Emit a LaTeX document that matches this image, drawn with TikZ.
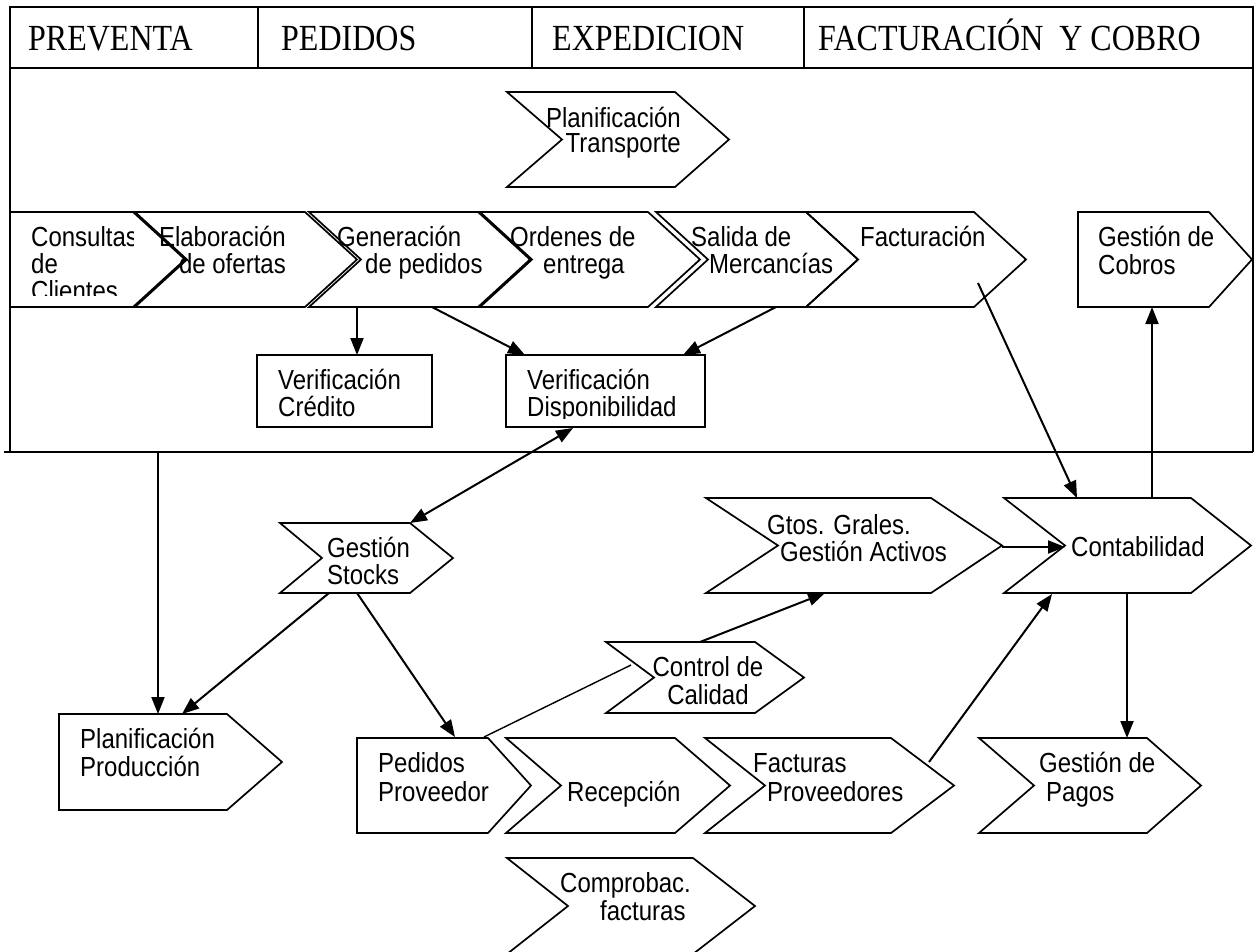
\documentclass[tikz,border=0pt]{standalone}
\usepackage{fontspec}
\usepackage{graphicx}
\setmainfont{Liberation Serif}
\newfontfamily\arialf{Liberation Sans}
\usetikzlibrary{arrows.meta}
\newcommand\chevshape[6]{% xl, xr, ytop, ybot, notch depth, tip depth
  \draw[shp] (#1,#3) -- (#2,#3) -- ({#2+#6},{(#3+#4)/2}) -- (#2,#4) -- (#1,#4) -- ({#1+#5},{(#3+#4)/2}) -- cycle;}
\newcommand\vs[1]{\scalebox{1}[1.15]{#1}}
\begin{document}
\begin{tikzpicture}[x=1pt,y=-1pt, line join=miter,
  shp/.style={draw=black, line width=1.7pt},
  frm/.style={draw=black, line width=1.8pt},
  arr/.style={line width=2pt, -{Triangle[length=17pt,width=13pt]}},
  darr/.style={line width=2pt, {Triangle[length=17pt,width=13pt]}-{Triangle[length=17pt,width=13pt]}},
  thin/.style={line width=1.4pt},
  txt/.style={inner sep=0pt, font=\arialf\fontsize{24}{27}\selectfont},
  hdr/.style={inner sep=0pt, font=\fontsize{32}{36}\selectfont}]
\useasboundingbox (0,0) rectangle (1257,951);
\clip (0,0) rectangle (1257,951);

% header and frame
\draw[frm] (10,7) rectangle (1253,68);
\draw[frm] (258,7) -- (258,68);
\draw[frm] (532,7) -- (532,68);
\draw[frm] (804,7) -- (804,68);
\draw[frm] (10,68) -- (10,452);
\draw[frm] (1253,68) -- (1253,452);
\draw[frm] (4,452) -- (1253,452);

\node[hdr, anchor=base west] (h1) at (28,50) {\vs{PREVENTA}};
\node[hdr, anchor=base west] (h2) at (281,50) {\vs{PEDIDOS}};
\node[hdr, anchor=base west] (h3) at (552,50) {\vs{EXPEDICION}};
\node[hdr, anchor=base west] (h4) at (818,50) {\vs{FACTURACIÓN\ \ Y COBRO}};

% shapes
\chevshape{507}{675}{92}{187}{55}{54}        % Planificacion Transporte
\chevshape{10}{133}{212}{307}{0}{52}         % Consultas
\chevshape{135}{305}{212}{307}{52}{52}       % Elaboracion
\chevshape{309}{478}{212}{307}{52}{52}       % Generacion
\chevshape{480}{648}{212}{307}{52}{52}       % Ordenes
\chevshape{656}{806}{212}{307}{52}{52}       % Salida
\chevshape{806}{974}{212}{307}{52}{52}       % Facturacion
\chevshape{1078}{1209}{212}{307}{0}{43}      % Gestion Cobros
\draw[shp] (257,355) rectangle (432,427);    % Verificacion Credito
\draw[shp] (506,355) rectangle (705,427);    % Verificacion Disponibilidad
\chevshape{280}{410}{523}{593}{42}{43}       % Gestion Stocks
\chevshape{706}{931}{498}{593}{72}{71}       % Gtos Grales
\chevshape{1004}{1191}{498}{593}{61}{60}     % Contabilidad
\chevshape{606}{755}{642}{713}{48}{49}       % Control de Calidad
\chevshape{59}{227}{714}{810}{0}{55}         % Planificacion Produccion
\chevshape{357}{488}{738}{833}{0}{43}        % Pedidos Proveedor
\chevshape{506}{675}{738}{833}{55}{55}       % Recepcion
\chevshape{705}{891}{738}{833}{60}{63}       % Facturas Proveedores
\chevshape{979}{1147}{738}{833}{55}{54}      % Gestion de Pagos
\chevshape{507}{693}{858}{954}{61}{62}       % Comprobac facturas

% texts
\node[txt, anchor=base east] (pt1) at (681,127) {\vs{Planificación}};
\node[txt, anchor=base east] (pt2) at (681,152) {\vs{Transporte}};
\begin{scope}
  \clip (10,212) rectangle (133,295);
  \node[txt, anchor=base west] (cc1) at (31,246) {\vs{Consultas}};
  \node[txt, anchor=base west] (cc2) at (31,273) {\vs{de}};
  \node[txt, anchor=base west] (cc3) at (31,300) {\vs{Clientes}};
\end{scope}
\node[txt, anchor=base east] (el1) at (286,246) {\vs{Elaboración}};
\node[txt, anchor=base east] (el2) at (286,273) {\vs{de ofertas}};
\node[txt, anchor=base west] (ge1) at (337,246) {\vs{Generación}};
\node[txt, anchor=base west] (ge2) at (365,273) {\vs{de pedidos}};
\node[txt, anchor=base west] (or1) at (510,246) {\vs{Ordenes de}};
\node[txt, anchor=base west] (or2) at (543,273) {\vs{entrega}};
\node[txt, anchor=base west] (sa1) at (691,246) {\vs{Salida de}};
\node[txt, anchor=base west] (sa2) at (709,273) {\vs{Mercancías}};
\node[txt, anchor=base west] (fa1) at (860,246) {\vs{Facturación}};
\node[txt, anchor=base west] (gc1) at (1098,246) {\vs{Gestión de}};
\node[txt, anchor=base west] (gc2) at (1098,274) {\vs{Cobros}};
\node[txt, anchor=base west] (vc1) at (278,389) {\vs{Verificación}};
\node[txt, anchor=base west] (vc2) at (278,416) {\vs{Crédito}};
\node[txt, anchor=base west] (vd1) at (527,389) {\vs{Verificación}};
\begin{scope}
  \clip (506,390) rectangle (705,418);
  \node[txt, anchor=base west] (vd2) at (527,416) {\vs{Disponibilidad}};
\end{scope}
\node[txt, anchor=base west] (gs1) at (327,557) {\vs{Gestión}};
\node[txt, anchor=base west] (gs2) at (327,584) {\vs{Stocks}};
\node[txt, anchor=base west] (gt1) at (767,534) {\vs{Gtos. Grales.}};
\node[txt, anchor=base west] (gt2) at (780,561) {\vs{Gestión Activos}};
\node[txt, anchor=base west] (co1) at (1071,556) {\vs{Contabilidad}};
\node[txt, anchor=base] (cq1) at (708,676) {\vs{Control de}};
\node[txt, anchor=base] (cq2) at (708,704) {\vs{Calidad}};
\node[txt, anchor=base west] (pp1) at (80,748) {\vs{Planificación}};
\node[txt, anchor=base west] (pp2) at (80,776) {\vs{Producción}};
\node[txt, anchor=base west] (pe1) at (378,772) {\vs{Pedidos}};
\node[txt, anchor=base west] (pe2) at (378,801) {\vs{Proveedor}};
\node[txt, anchor=base west] (re1) at (567,801) {\vs{Recepción}};
\node[txt, anchor=base west] (fp1) at (753,772) {\vs{Facturas}};
\node[txt, anchor=base west] (fp2) at (767,801) {\vs{Proveedores}};
\node[txt, anchor=base west] (gp1) at (1039,772) {\vs{Gestión de}};
\node[txt, anchor=base west] (gp2) at (1046,801) {\vs{Pagos}};
\node[txt, anchor=base west] (cf1) at (560,892) {\vs{Comprobac.}};
\node[txt, anchor=base west] (cf2) at (600,920) {\vs{facturas}};

% connector points
\coordinate (gen-b1) at (357,307);
\coordinate (vc-t) at (357,355);
\coordinate (gen-b2) at (432,307);
\coordinate (vd-t1) at (525,355);
\coordinate (sal-b) at (776,307);
\coordinate (vd-t2) at (683,355);
\coordinate (vd-b) at (573,428);
\coordinate (gs-t) at (410,523);
\coordinate (fac-in) at (978,283);
\coordinate (con-t1) at (1077,498);
\coordinate (con-t2) at (1152,498);
\coordinate (gc-b) at (1152,307);
\coordinate (gto-tip) at (1002,547);
\coordinate (con-n) at (1065,547);
\coordinate (cq-t) at (700,642);
\coordinate (gto-b) at (825,593);
\coordinate (fp-r) at (929,762);
\coordinate (con-b1) at (1052,594);
\coordinate (con-b2) at (1127,593);
\coordinate (gp-t) at (1127,738);
\coordinate (pe-tr) at (484,737);
\coordinate (cq-l) at (631,665);
\coordinate (fr-b) at (158,452);
\coordinate (prod-t1) at (158,714);
\coordinate (gs-b1) at (329,593);
\coordinate (prod-t2) at (182,714);
\coordinate (gs-b2) at (357,593);
\coordinate (pe-t) at (455,737);

% connectors
\draw[arr] (gen-b1) -- (vc-t);
\draw[arr] (gen-b2) -- (vd-t1);
\draw[arr] (sal-b) -- (vd-t2);
\draw[darr] (vd-b) -- (gs-t);
\draw[arr] (fac-in) -- (con-t1);
\draw[arr] (con-t2) -- (gc-b);
\draw[arr] (gto-tip) -- (con-n);
\draw[arr] (cq-t) -- (gto-b);
\draw[arr] (fp-r) -- (con-b1);
\draw[arr] (con-b2) -- (gp-t);
\draw[thin] (pe-tr) -- (cq-l);
\draw[arr] (fr-b) -- (prod-t1);
\draw[arr] (gs-b1) -- (prod-t2);
\draw[arr] (gs-b2) -- (pe-t);
\end{tikzpicture}
\end{document}
